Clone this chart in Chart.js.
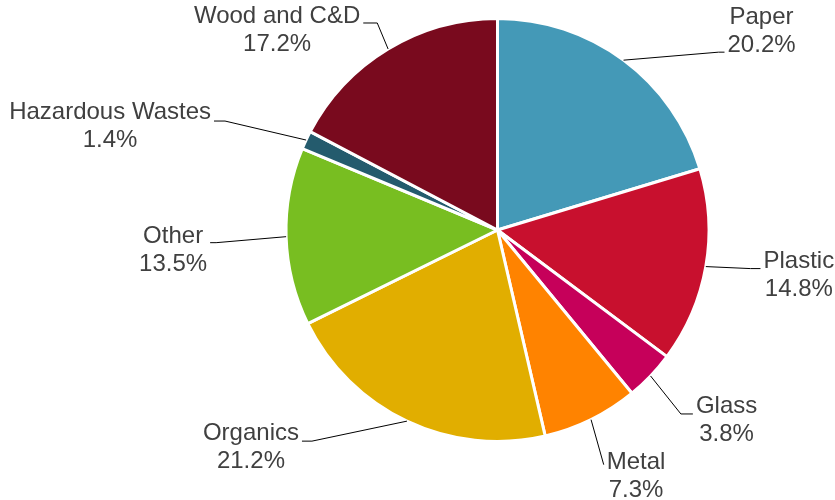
<!DOCTYPE html>
<html>
<head>
<meta charset="utf-8">
<script src="https://cdn.jsdelivr.net/npm/chart.js@4/dist/chart.umd.min.js"></script>
<style>
  html, body { margin: 0; padding: 0; background: #fff; }
  #wrap { width: 835px; height: 500px; position: relative; }
</style>
</head>
<body>
<div id="wrap"><canvas id="pie"></canvas></div>
<script>
const categories = ['Paper', 'Plastic', 'Glass', 'Metal', 'Organics', 'Other', 'Hazardous Wastes', 'Wood and C&D'];
const shares = [20.2, 14.8, 3.8, 7.3, 21.2, 13.5, 1.4, 17.2];
const sliceColors = ['#4499B7', '#C8102E', '#C6005A', '#FF8300', '#E1AE00', '#78BE21', '#245B6D', '#790A1E'];

// label placement relative to the slice's outer edge point: text centre (tx, ty), joint y (jy), stub length
const labelLayout = [
  { tx: 138, ty: -29, jy: -8, stub: 6 },
  { tx: 93, ty: 9, jy: 2, stub: 10 },
  { tx: 76, ty: 44, jy: 38, stub: 12 },
  { tx: 45, ty: 57, jy: 45, stub: 0 },
  { tx: -156, ty: 26, jy: 20, stub: 10 },
  { tx: -113, ty: 14, jy: 6, stub: 6 },
  { tx: -196, ty: -14, jy: -19, stub: 11 },
  { tx: -111, ty: -19, jy: -26, stub: 14 }
];

const outsideLabels = {
  id: 'outsideLabels',
  afterDatasetsDraw(chart) {
    const ctx = chart.ctx;
    const arcs = chart.getDatasetMeta(0).data;
    const lineH = 28;
    ctx.save();
    ctx.font = '24px "Liberation Sans", Arial, sans-serif';
    ctx.textAlign = 'center';
    ctx.textBaseline = 'middle';
    arcs.forEach((arc, i) => {
      const p = arc.getProps(['x', 'y', 'startAngle', 'endAngle', 'outerRadius'], true);
      const mid = (p.startAngle + p.endAngle) / 2;
      const r = p.outerRadius;
      const ax = p.x + Math.cos(mid) * r;
      const ay = p.y + Math.sin(mid) * r;
      const lay = labelLayout[i];
      const cx = ax + lay.tx;
      const cy = ay + lay.ty;
      const line1 = categories[i];
      const line2 = shares[i].toFixed(1) + '%';
      const halfW = Math.max(ctx.measureText(line1).width, ctx.measureText(line2).width) / 2;
      const right = lay.tx > 0;
      const jx = right ? cx - halfW - 3 : cx + halfW + 3;
      const jy = ay + lay.jy;
      const ex = right ? jx - lay.stub : jx + lay.stub;

      ctx.strokeStyle = '#000';
      ctx.lineWidth = 1;
      ctx.beginPath();
      ctx.moveTo(ax, ay);
      ctx.lineTo(ex, jy);
      ctx.lineTo(jx, jy);
      ctx.stroke();

      ctx.fillStyle = '#404040';
      ctx.fillText(line1, cx, cy - lineH / 2);
      ctx.fillText(line2, cx, cy + lineH / 2);
    });
    ctx.restore();
  }
};

new Chart(document.getElementById('pie'), {
  type: 'pie',
  data: {
    labels: categories,
    datasets: [{
      data: shares,
      backgroundColor: sliceColors,
      borderColor: '#ffffff',
      borderWidth: 3
    }]
  },
  options: {
    responsive: true,
    maintainAspectRatio: false,
    animation: false,
    layout: { padding: { left: 284, right: 124, top: 17, bottom: 57 } },
    plugins: {
      legend: { display: false },
      tooltip: { enabled: false }
    }
  },
  plugins: [outsideLabels]
});
</script>
</body>
</html>
